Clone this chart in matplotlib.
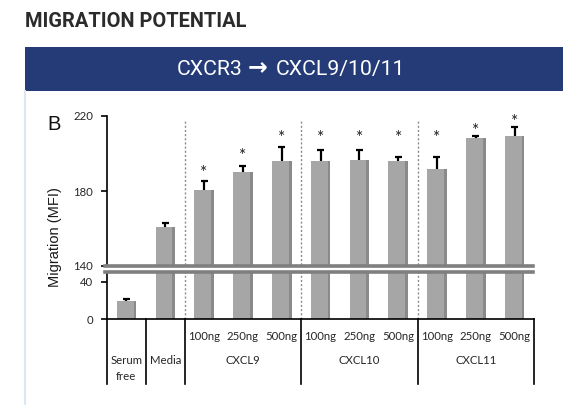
import numpy as np
import matplotlib
matplotlib.use("Agg")
import matplotlib.pyplot as plt
from matplotlib.patches import Rectangle
from matplotlib.lines import Line2D
from matplotlib.scale import FuncScale

# ---- data -------------------------------------------------------------
conditions = ["Serum free", "Media",
              "CXCL9 100ng", "CXCL9 250ng", "CXCL9 500ng",
              "CXCL10 100ng", "CXCL10 250ng", "CXCL10 500ng",
              "CXCL11 100ng", "CXCL11 250ng", "CXCL11 500ng"]
migration = [19.5, 161.0, 180.5, 190.0, 196.0, 196.0, 196.5, 196.0, 192.0, 208.5, 209.5]
sem_upper = [2.0, 1.8, 4.7, 3.6, 7.5, 6.0, 5.2, 2.3, 6.2, 0.9, 4.5]
star_height = [None, None, 192.5, 201.5, 211.0, 211.0, 211.0, 211.0, 211.0, 214.5, 219.5]
dose_labels = ["", "", "100ng", "250ng", "500ng", "100ng", "250ng", "500ng",
               "100ng", "250ng", "500ng"]
groups = [("Serum", 0), ("Media", 1), ("CXCL9", 3), ("CXCL10", 6), ("CXCL11", 9)]
y_ticks = [0, 40, 140, 180, 220]

W, H = 563, 405
fig = plt.figure(figsize=(W / 100, H / 100), dpi=100)


def fx(x):
    return x / W


def fy(y):
    return 1 - y / H


# ---- header --------------------------------------------------------------
head_font = ["Roboto", "DejaVu Sans"]
fig.text(fx(25), fy(21.7), "MIGRATION POTENTIAL", family=head_font, fontsize=14.4,
         fontweight="bold", color="#2b2b2b", ha="left", va="center")
fig.patches.append(Rectangle((fx(25), fy(91)), fx(W - 25), fy(47) - fy(91),
                             transform=fig.transFigure, facecolor="#243b77",
                             edgecolor="none"))
fig.lines.append(Line2D([fx(25), fx(25)], [fy(91), 0], transform=fig.transFigure,
                        color="#dce7f5", lw=1.5))
fig.text(fx(243), fy(69.5), "CXCR3", family=head_font, fontsize=15.3,
         color="white", ha="right", va="center")
fig.text(fx(258), fy(67.5), "\u2192", family=["DejaVu Sans"], fontweight="bold",
         fontsize=17, color="white", ha="center", va="center")
fig.text(fx(276), fy(69.5), "CXCL9/10/11", family=head_font, fontsize=15.3,
         color="white", ha="left", va="center")

# ---- broken y scale ----------------------------------------------------
_v = [-100, 0, 40, 140, 220, 400]
_p = [-92.5, 0, 37, 53, 203, 540.5]


def fwd(v):
    return np.interp(v, _v, _p)


def inv(p):
    return np.interp(p, _p, _v)


ax = fig.add_axes([fx(107), fy(319), fx(534) - fx(107), fy(116) - fy(319)])
ax.set_yscale(FuncScale(ax, (fwd, inv)))
ax.set_ylim(0, 220)
ax.set_xlim(-0.5, len(migration) - 0.5)

x = np.arange(len(migration))
bar_w = 0.5
ax.bar(x, migration, width=bar_w, color="#a6a6a6", edgecolor="none", zorder=2)
# darker right-hand edge on each bar
ax.bar(x + bar_w / 2 - 0.03, migration, width=0.07, color="#8a8a8a",
       edgecolor="none", zorder=2)

# upper error bars with caps
tops = np.array(migration) + np.array(sem_upper)
ax.vlines(x, migration, tops, color="black", lw=1.6, zorder=3)
ax.hlines(tops, x - 0.09, x + 0.09, color="black", lw=1.6, zorder=3)

cal = ["Lato", "DejaVu Sans"]
for xi, sh in zip(x, star_height):
    if sh is not None:
        ax.annotate("*", (xi, sh), xytext=(0, -7.2), textcoords="offset points",
                    ha="center", va="baseline", fontsize=12.5, family=cal,
                    color="#222222", zorder=4)

# axis break: two grey rules with a white gap between them
ta = ax.transAxes
for yy in (1 - (266 - 116) / 203, 1 - (272 - 116) / 203):
    ax.add_line(Line2D([-0.005, 0.998], [yy, yy], transform=ta, color="#7f7f7f",
                       lw=2.6, zorder=6, clip_on=False))
ax.add_patch(Rectangle((-0.003, 1 - (271 - 116) / 203), 1.0,
                       (271 - 267) / 203, transform=ta, facecolor="white",
                       edgecolor="none", zorder=5, clip_on=False))

# dotted separators between treatment groups
xt = ax.get_xaxis_transform()
for xs in (1.5, 4.5, 7.5):
    ax.add_line(Line2D([xs, xs], [0, 1 - (121 - 116) / 203], transform=xt,
                       color="#8c8c8c", lw=1.0, ls=(0, (1.5, 1.5)), zorder=1))

# category table under the axis
table_bottom = -(384 - 319) / 203
for xs in (-0.5, 0.5, 1.5, 4.5, 7.5, len(migration) - 0.5):
    ax.add_line(Line2D([xs, xs], [0, table_bottom], transform=xt, color="black",
                       lw=1.2, clip_on=False, zorder=3))

for xi, lab in zip(x, dose_labels):
    if lab:
        ax.text(xi, -(337 - 319) / 203, lab, transform=xt, ha="center",
                va="center", fontsize=8.2, family=cal, color="#262626")
for lab, xi in groups:
    ax.text(xi, -(360 - 319) / 203, lab, transform=xt, ha="center",
            va="center", fontsize=8.2, family=cal, color="#262626")
ax.text(0, -(376 - 319) / 203, "free", transform=xt, ha="center",
        va="center", fontsize=8.2, family=cal, color="#262626")

# spines and ticks
for s in ("top", "right"):
    ax.spines[s].set_visible(False)
ax.spines["left"].set_color("black")
ax.spines["left"].set_linewidth(1.2)
ax.spines["bottom"].set_color("black")
ax.spines["bottom"].set_linewidth(1.2)
ax.set_xticks([])
ax.set_yticks(y_ticks)
ax.set_yticklabels([str(t) for t in y_ticks], family=cal, fontsize=8.2,
                   color="#262626")
ax.tick_params(axis="y", length=4, width=1.2, color="black", pad=6)
ax.yaxis.set_minor_locator(matplotlib.ticker.NullLocator())

fig.text(fx(55), fy(237), "Migration (MFI)", rotation=90, ha="center",
         va="center", family=["Liberation Sans", "DejaVu Sans"], fontsize=10.5,
         color="#1a1a1a")
fig.text(fx(54), fy(125), "B", ha="center", va="center",
         family=["Liberation Sans", "DejaVu Sans"], fontsize=14.5, color="#111111")

fig.savefig("out.png", dpi=100, facecolor="white")
